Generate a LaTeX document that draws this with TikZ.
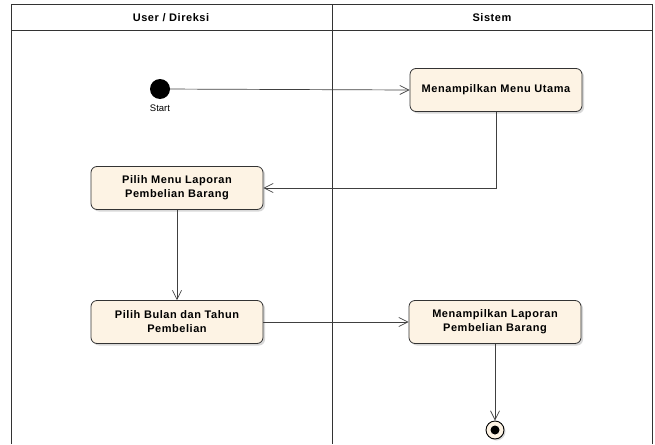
\documentclass[tikz,border=0pt]{standalone}
\usepackage{fontspec}
\setmainfont{Liberation Sans}
\newfontfamily\actfont[LetterSpace=5]{Liberation Sans}
\usetikzlibrary{positioning}
\usetikzlibrary{shadows}
\usetikzlibrary{arrows.meta}
\definecolor{actfill}{RGB}{253,243,228}
\begin{document}
\begin{tikzpicture}[x=1pt,y=-1pt,
    lane/.style={draw=black!80, line width=1pt},
    action/.style={draw=black!80, line width=0.8pt, rounded corners=6pt, fill=actfill,
        minimum width=172pt, minimum height=43pt, align=center,
        font=\actfont\fontsize{11}{14}\selectfont\bfseries,
        drop shadow={shadow xshift=2pt, shadow yshift=-2pt, fill=black!30}},
    flow/.style={draw=black!75, line width=0.7pt, -{Straight Barb[length=9pt,width=9pt]}}]
    \useasboundingbox (0,0) rectangle (655,444);
    % swimlanes
    \draw[lane] (11,444) -- (11,5) -- (652,5) -- (652,444);
    \draw[lane] (11,31) -- (652,31);
    \draw[lane] (332,5) -- (332,444);
    \node[font=\actfont\fontsize{11}{13}\selectfont\bfseries] (userlane) at (171,18) {User / Direksi};
    \node[font=\actfont\fontsize{11}{13}\selectfont\bfseries] (syslane) at (492,18) {Sistem};
    % activities
    \node[circle, fill=black, minimum size=20pt, inner sep=0pt,
        label={[font=\fontsize{9.5}{11}\selectfont, inner sep=0pt, yshift=-5pt]below:Start}] (start) at (160,89) {};
    \node[action] (menuutama) at (496,90) {Menampilkan Menu Utama};
    \node[action] (pilihmenu) at (177,188) {Pilih Menu Laporan\\Pembelian Barang};
    \node[action] (pilihbulan) at (177,322) {Pilih Bulan dan Tahun\\Pembelian};
    \node[action] (laporan) at (495,322) {Menampilkan Laporan\\Pembelian Barang};
    \node[circle, draw=black, line width=0.9pt, fill=actfill, minimum size=18pt, inner sep=0pt,
        drop shadow={shadow xshift=1.5pt, shadow yshift=-1.5pt, fill=black!30}] (finish) at (495,430) {};
    \fill (finish.center) circle (4.5pt);
    % flows
    \draw[flow] (start) -- (menuutama.west);
    \draw[flow] (menuutama.south) |- (pilihmenu.east);
    \draw[flow] (pilihmenu) -- (pilihbulan);
    \draw[flow] (pilihbulan) -- (laporan);
    \draw[flow] (laporan) -- (finish);
\end{tikzpicture}
\end{document}
